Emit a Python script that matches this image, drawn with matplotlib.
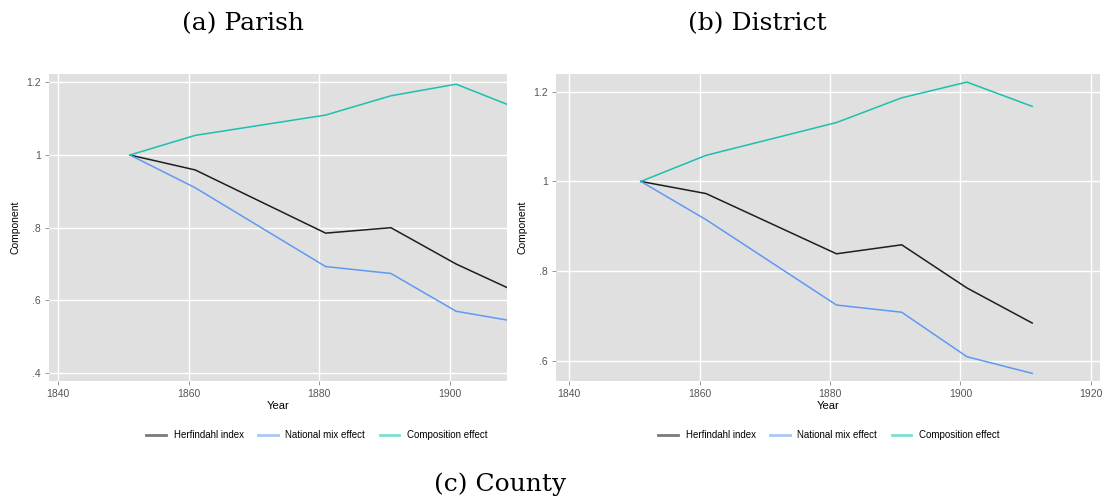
import numpy as np
import matplotlib.pyplot as plt

years = [1851, 1861, 1881, 1891, 1901, 1911]

# (a) Parish
parish_herf = [1.0, 0.959, 0.785, 0.800, 0.700, 0.617]
parish_mix = [1.0, 0.910, 0.693, 0.674, 0.570, 0.539]
parish_comp = [1.0, 1.054, 1.110, 1.163, 1.195, 1.124]

# (b) District
district_herf = [1.0, 0.973, 0.839, 0.859, 0.763, 0.685]
district_mix = [1.0, 0.915, 0.725, 0.709, 0.610, 0.573]
district_comp = [1.0, 1.058, 1.131, 1.186, 1.221, 1.167]

series_names = ['Herfindahl index', 'National mix effect', 'Composition effect']
line_colors = ['#1e1e1e', '#5f99f2', '#1dbfae']
legend_colors = ['#7a7a7a', '#a9c8f7', '#7fded3']

plt.rcParams['font.family'] = ['Liberation Sans', 'DejaVu Sans']

fig = plt.figure(figsize=(11.07, 5.04), dpi=100)


def W(px):
    return px / 1107


def H(px):
    return px / 504


def panel(rect, herf, mix, comp, xlim, ylim, yticks, ylabels, xticks):
    ax = fig.add_axes(rect)
    ax.set_facecolor('#e0e0e0')
    for sp in ax.spines.values():
        sp.set_visible(False)
    for vals, c in zip([herf, mix, comp], line_colors):
        ax.plot(years, vals, color=c, lw=1.1, zorder=3)
    ax.set_xlim(*xlim)
    ax.set_ylim(*ylim)
    ax.set_xticks(xticks)
    ax.set_xticklabels([str(x) for x in xticks])
    ax.set_yticks(yticks)
    ax.set_yticklabels(ylabels)
    ax.grid(True, color='white', lw=1.0)
    ax.set_axisbelow(True)
    ax.tick_params(axis='both', length=3.2, width=0.6, color='#888888',
                   labelcolor='#555555', labelsize=7.5, pad=2.5)
    ax.set_xlabel('Year', fontsize=8, labelpad=1.5)
    ax.set_ylabel('Component', fontsize=7.5, labelpad=4)
    return ax


ax1 = panel([W(49), H(504 - 381), W(458), H(307)], parish_herf, parish_mix, parish_comp,
            (1838.6, 1908.8), (0.378, 1.223), [0.4, 0.6, 0.8, 1.0, 1.2],
            ['.4', '.6', '.8', '1', '1.2'], [1840, 1860, 1880, 1900])
ax2 = panel([W(556), H(504 - 381), W(544), H(307)], district_herf, district_mix, district_comp,
            (1838.0, 1921.4), (0.556, 1.239), [0.6, 0.8, 1.0, 1.2],
            ['.6', '.8', '1', '1.2'], [1840, 1860, 1880, 1900, 1920])

# legends (lighter handles, like the original)
for cx in [317, 829]:
    hs = [plt.Line2D([], [], color=c, lw=2) for c in legend_colors]
    fig.legend(hs, series_names, loc='center', bbox_to_anchor=(W(cx), 1 - H(435)),
               ncol=3, frameon=False, fontsize=7, handlelength=2.0,
               handletextpad=0.8, columnspacing=1.5)

serif = ['DejaVu Serif']
fig.text(W(243), 1 - H(24), '(a) Parish', ha='center', va='center', fontsize=18, family=serif)
fig.text(W(757), 1 - H(24), '(b) District', ha='center', va='center', fontsize=18, family=serif)
fig.text(W(500), 1 - H(484), '(c) County', ha='center', va='center', fontsize=18, family=serif)

fig.savefig('out.png', dpi=100)
